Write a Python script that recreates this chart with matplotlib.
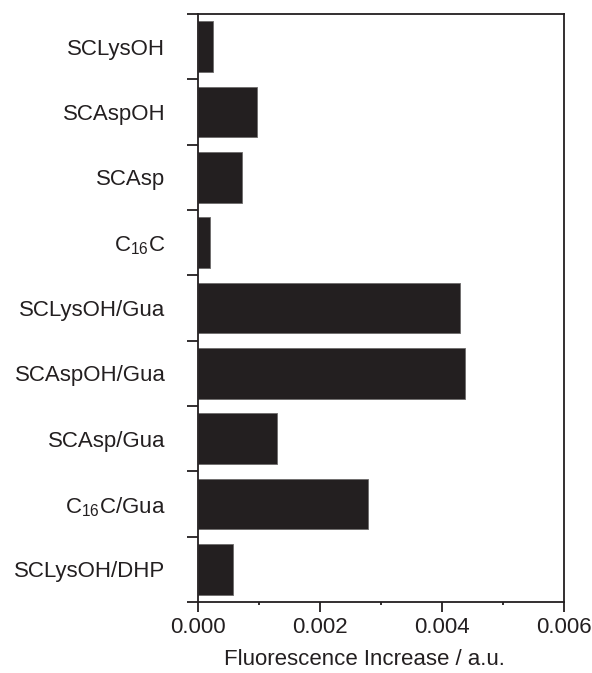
import numpy as np
import matplotlib
matplotlib.use('Agg')
import matplotlib.pyplot as plt
from matplotlib.ticker import MultipleLocator, FixedLocator, NullFormatter

plt.rcParams['font.family'] = 'Liberation Sans'
plt.rcParams['mathtext.fontset'] = 'custom'
plt.rcParams['mathtext.rm'] = 'Liberation Sans'
plt.rcParams['mathtext.it'] = 'Liberation Sans:italic'

#samples, top to bottom
samples = ['SCLysOH', 'SCAspOH', 'SCAsp', r'C$_{\mathregular{16}}$C',
           'SCLysOH/Gua', 'SCAspOH/Gua', 'SCAsp/Gua',
           r'C$_{\mathregular{16}}$C/Gua', 'SCLysOH/DHP']
increase = [0.00025, 0.00097, 0.00072, 0.00020,
            0.00430, 0.00438, 0.00130, 0.00279, 0.00057]
xticks = [0.000, 0.002, 0.004, 0.006]

barColor = '#231f20'
fs = 16

fig = plt.figure(figsize=(5.92, 6.73), dpi=100)
ax = fig.add_axes([198/592, 1-602/673, (564-198)/592, (602-14)/673])

pos = np.arange(len(samples))
ax.barh(pos, increase, height=0.78, color=barColor, edgecolor='#6d6b6b', linewidth=0.6)

ax.set_xlim(0, 0.006)
ax.set_ylim(len(samples)-0.5, -0.5)

#category names on centre ticks, marks on the boundaries
ax.yaxis.set_major_locator(FixedLocator(np.arange(-0.5, len(samples), 1.0)))
ax.yaxis.set_major_formatter(NullFormatter())
ax.yaxis.set_minor_locator(FixedLocator(pos))
ax.set_yticklabels(samples, minor=True)
ax.tick_params(axis='y', which='major', length=8, width=1.3, direction='out', color='#231f20')
ax.tick_params(axis='y', which='minor', length=0, pad=23.5, labelsize=fs, labelcolor='#231f20')

ax.set_xticks(xticks)
ax.set_xticklabels(['%.3f' % t for t in xticks])
ax.xaxis.set_minor_locator(MultipleLocator(0.001))
ax.tick_params(axis='x', which='major', length=7.5, width=1.3, direction='out', labelsize=fs, pad=3.5,
               color='#231f20', labelcolor='#231f20')
ax.tick_params(axis='x', which='minor', length=2.5, width=1.3, direction='out', color='#231f20')

for s in ax.spines.values():
    s.set_linewidth(1.3)
    s.set_color('#231f20')

ax.set_xlabel('Fluorescence Increase / a.u.', fontsize=fs, labelpad=8, color='#231f20')
ax.xaxis.label.set_x(0.455)

fig.savefig('out.png', dpi=100)
